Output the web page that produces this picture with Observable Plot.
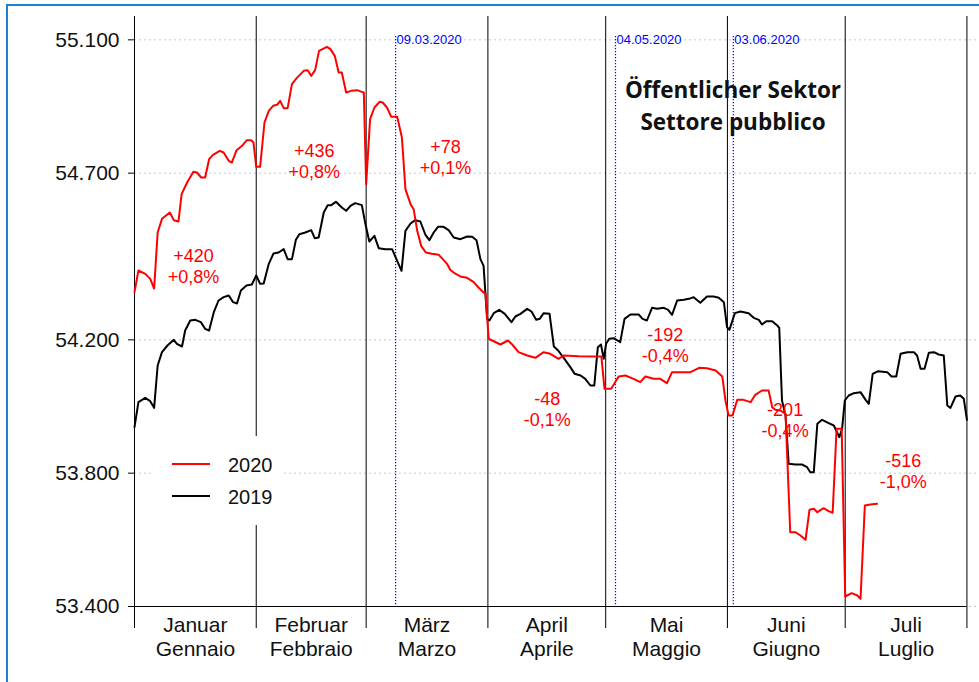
<!DOCTYPE html>
<html><head><meta charset="utf-8">
<script src="https://cdn.jsdelivr.net/npm/d3@7"></script>
<script src="https://cdn.jsdelivr.net/npm/@observablehq/plot@0.6"></script>
<style>
html,body{margin:0;padding:0;background:#fff;}
#wrap{position:relative;width:979px;height:682px;overflow:hidden;font-family:"Liberation Sans",Arial,sans-serif;}
#chart{position:absolute;left:0;top:0;}
#frame{position:absolute;left:6px;top:4px;width:1100px;height:900px;border:2px solid #1f7fd0;box-sizing:border-box;pointer-events:none;}
#title{position:absolute;left:583px;width:300px;top:74px;text-align:center;font-family:"Open Sans",sans-serif;font-weight:700;font-size:22.5px;line-height:32px;color:#111;}
#legend{position:absolute;left:153px;top:436px;width:130px;height:89px;background:#fff;}
#legend .sw{position:absolute;left:19px;width:38px;height:2px;}
#legend .lb{position:absolute;left:75px;font-size:20px;line-height:20px;color:#111;}
</style>
</head><body>
<div id="wrap">
  <div id="chart"></div>
  <div id="title"></div>
  <div id="legend"></div>
  <div id="frame"></div>
</div>
<script>
// ---- data (x = days since 1 January, y = employees) ----
const days2020 = [0,1,2.75,4,5,5.9,7,9,10,11.2,12,13.4,15,15.9,17,18,19,20,21.7,22.7,24,24.8,26,27.4,28.6,29.7,30.3,31,32,33.1,34.2,35.3,36.3,37.1,38,39,40.1,41.3,43.1,44.1,45,46,47,49,49.9,51,52,52.8,53.9,55.2,56.7,57.9,58.4,59,60,61.1,62.4,63.2,64.3,65.4,66.9,68.1,69,70.3,71.1,72,73,74.2,75.7,77.5,78.5,79.6,80.4,81.5,83,84.7,86.4,87.6,88.9,89.4,90.2,91.1,93.2,95.1,96.2,97.8,100,102.1,104.2,105.9,108,109.3,113.1,117.4,118.9,119.7,121.4,123.3,125,127.1,128.8,130.1,132.2,133.9,135.6,136.9,138.6,141.6,143.8,145.8,148,149.7,150.5,151.3,152.3,153.5,155.1,156.9,158.1,159.8,161.5,162.4,163.2,164.5,165.8,167,168.3,169.6,170.9,171.9,173,173.9,175.5,176.8,177.8,178.8,180.1,181,182.6,184.1,184.9,186,187.4,189.1];
const values2020 = [54343,54408,54398,54383,54354,54522,54563,54582,54559,54555,54637,54672,54704,54702,54687,54687,54742,54755,54767,54762,54737,54732,54769,54782,54799,54799,54792,54719,54719,54852,54887,54902,54905,54917,54895,54895,54967,54985,55007,55009,54992,55009,55067,55079,55072,55052,55002,55002,54942,54947,54949,54944,54942,54667,54862,54897,54914,54912,54897,54869,54869,54807,54652,54607,54592,54527,54482,54462,54458,54455,54442,54428,54410,54400,54390,54386,54373,54357,54342,54338,54203,54198,54186,54198,54186,54163,54153,54146,54163,54158,54143,54153,54151,54150,54150,54053,54053,54090,54093,54083,54073,54090,54083,54083,54070,54103,54103,54103,54116,54115,54108,54090,54018,53973,53973,54020,54020,54013,54035,54048,54048,53998,53990,53988,53978,53623,53623,53613,53600,53690,53693,53683,53695,53686,53681,53933,53933,53430,53440,53433,53423,53703,53706,53708];

const days2019 = [0,1,2.75,4,5,5.9,7,8.4,10,10.8,12.1,12.9,14.2,15.5,16.9,18,19,20.2,21.4,22.7,24,25.1,26.1,27.1,28.5,29.9,31,32,32.9,34.2,35.4,36.7,38,39,40.1,41.1,42,43.5,45,45.9,46.9,48.2,49.2,50.1,51.3,52.8,53.9,55,56.2,57.9,58.8,59.8,61.1,62.2,63.9,65.6,66.9,68,69,70.3,71.5,72.8,74.1,75.1,76.2,77.3,78.7,80,81.3,83,84.7,86,87.1,88.1,88.9,89.8,90.4,91.5,92.9,94.3,96,97,98.3,100,101.1,102.3,103.2,104.2,105.7,106.8,107.9,109.3,111,112.1,113.6,114.8,116.1,117.1,118,118.8,119.5,120.1,120.9,122,123.7,124.8,126.3,128.4,129.4,130.5,131.8,133.1,134.8,135.9,136.9,138.2,139.9,141.2,142.4,144.1,145.8,147.5,148.8,150.1,150.9,151.5,152.9,154.3,156.4,157.7,159,159.8,160.9,162.4,163.7,164.2,164.9,165.8,166.6,168.3,170,171.3,172.1,173,173.9,175.1,176.8,178.1,178.9,179.5,180.2,180.9,181.9,183.2,184.9,186.2,187,188,189.4,191.7,192.8,194,195.1,196.8,198.5,199.3,200.2,201.2,202.3,203.6,204.8,206.1,207,207.8,209.1,210.3,211.2,212];
const values2019 = [53938,54013,54026,54016,53996,54123,54163,54183,54200,54188,54180,54228,54258,54260,54253,54233,54228,54283,54318,54328,54333,54313,54309,54348,54363,54366,54393,54368,54369,54428,54459,54462,54472,54442,54442,54500,54517,54522,54529,54505,54507,54582,54604,54604,54614,54597,54587,54602,54610,54604,54548,54495,54512,54475,54472,54472,54437,54407,54527,54549,54559,54555,54515,54499,54522,54539,54539,54529,54507,54502,54510,54509,54499,54442,54422,54263,54258,54280,54290,54278,54253,54270,54278,54293,54285,54260,54263,54280,54278,54180,54168,54146,54118,54098,54093,54083,54063,54063,54178,54186,54143,54188,54203,54205,54193,54263,54276,54276,54263,54258,54296,54293,54296,54290,54275,54318,54320,54323,54328,54311,54330,54330,54326,54313,54238,54230,54280,54285,54280,54266,54260,54246,54256,54256,54243,54236,54018,53973,53828,53826,53826,53818,53803,53803,53948,53960,53950,53943,53923,53908,53933,54018,54033,54040,54043,54020,54008,54098,54106,54103,54090,54090,54158,54163,54163,54153,54113,54113,54161,54163,54156,54153,54003,53996,54030,54033,54023,53960];

const monthStarts = [0,31,59,90,120,151,181,212];
const monthsDE = ["Januar","Februar","März","April","Mai","Juni","Juli"];
const monthsIT = ["Gennaio","Febbraio","Marzo","Aprile","Maggio","Giugno","Luglio"];
const yTicks = [53400,53800,54200,54700,55100];

const eventDays = [66.5,122.5,152.5];
const eventLabels = ["09.03.2020","04.05.2020","03.06.2020"];

const noteDays = [15.0,45.8,79.2,105.1,135.2,165.7,195.8];
const noteValues = [54421,54736,54748,53992,54186,53961,53808];
const noteAbs = ["+420","+436","+78","-48","-192","-201","-516"];
const notePct = ["+0,8%","+0,8%","+0,1%","-0,1%","-0,4%","-0,4%","-1,0%"];

const titleLines = ["Öffentlicher Sektor","Settore pubblico"];
const seriesNames = ["2020","2019"];
const seriesColors = ["#ff0000","#000000"];

// ---- build ----
const s2020 = days2020.map((d,i)=>({day:d, v:values2020[i]}));
const s2019 = days2019.map((d,i)=>({day:d, v:values2019[i]}));
const mids = monthsDE.map((m,i)=>(monthStarts[i]+monthStarts[i+1])/2);
const midLabel = new Map(mids.map((m,i)=>[m, monthsDE[i]+"\n"+monthsIT[i]]));
const notes = noteDays.map((d,i)=>({day:d, v:noteValues[i], t:noteAbs[i]+"\n"+notePct[i]}));
const fmt = d3.formatLocale({decimal:",", thousands:".", grouping:[3], currency:["",""]}).format(",d");
const xEnd = monthStarts[monthStarts.length-1];

const chart = Plot.plot({
  width: 979, height: 682,
  marginLeft: 134, marginTop: 16, marginBottom: 76, marginRight: 0,
  style: {fontFamily: "'Liberation Sans', Arial, sans-serif", color: "#111", background: "transparent", overflow: "visible"},
  x: {domain: [0, 215.2]},
  y: {domain: [53400, 55170]},
  marks: [
    Plot.gridY(yTicks, {stroke: "#c8c8c8", strokeOpacity: 1, strokeDasharray: "2,3"}),
    Plot.ruleX(monthStarts, {stroke: "#000", strokeWidth: 1}),
    Plot.ruleY([53400], {x1: 0, x2: xEnd, stroke: "#000", strokeWidth: 1}),
    Plot.ruleX(eventDays, {y1: 55110, y2: 53400, stroke: "#0000ff", strokeWidth: 1.2, strokeDasharray: "1.2,1.8"}),
    Plot.text(eventDays, {x: d=>d, y: 55100, text: (d,i)=>eventLabels[i], textAnchor: "start", dx: 1, fill: "#0000ff", fontSize: 13}),
    Plot.axisY({ticks: yTicks, tickSize: 6, tickPadding: 9, tickFormat: fmt, fontSize: 21, label: null, stroke: "#000"}),
    Plot.axisX(monthStarts, {tickSize: 22, tickFormat: () => "", label: null, stroke: "#000"}),
    Plot.axisX(mids, {tickSize: 0, tickPadding: 9, tickFormat: d => midLabel.get(d), fontSize: 21, lineHeight: 1.13, label: null}),
    Plot.line(s2019, {x: "day", y: "v", stroke: seriesColors[1], strokeWidth: 2}),
    Plot.line(s2020, {x: "day", y: "v", stroke: seriesColors[0], strokeWidth: 2}),
    Plot.text(notes, {x: "day", y: "v", text: "t", fill: "#ff0000", fontSize: 18, lineHeight: 1.17})
  ]
});
document.getElementById("chart").appendChild(chart);

document.getElementById("title").innerHTML = titleLines.join("<br>");
const lg = document.getElementById("legend");
seriesNames.forEach((n,i)=>{
  const sw = document.createElement("div"); sw.className="sw";
  sw.style.top = (27 + i*32) + "px"; sw.style.background = seriesColors[i];
  const lb = document.createElement("div"); lb.className="lb";
  lb.style.top = (19 + i*32) + "px"; lb.textContent = n;
  lg.appendChild(sw); lg.appendChild(lb);
});
</script>
</body></html>
